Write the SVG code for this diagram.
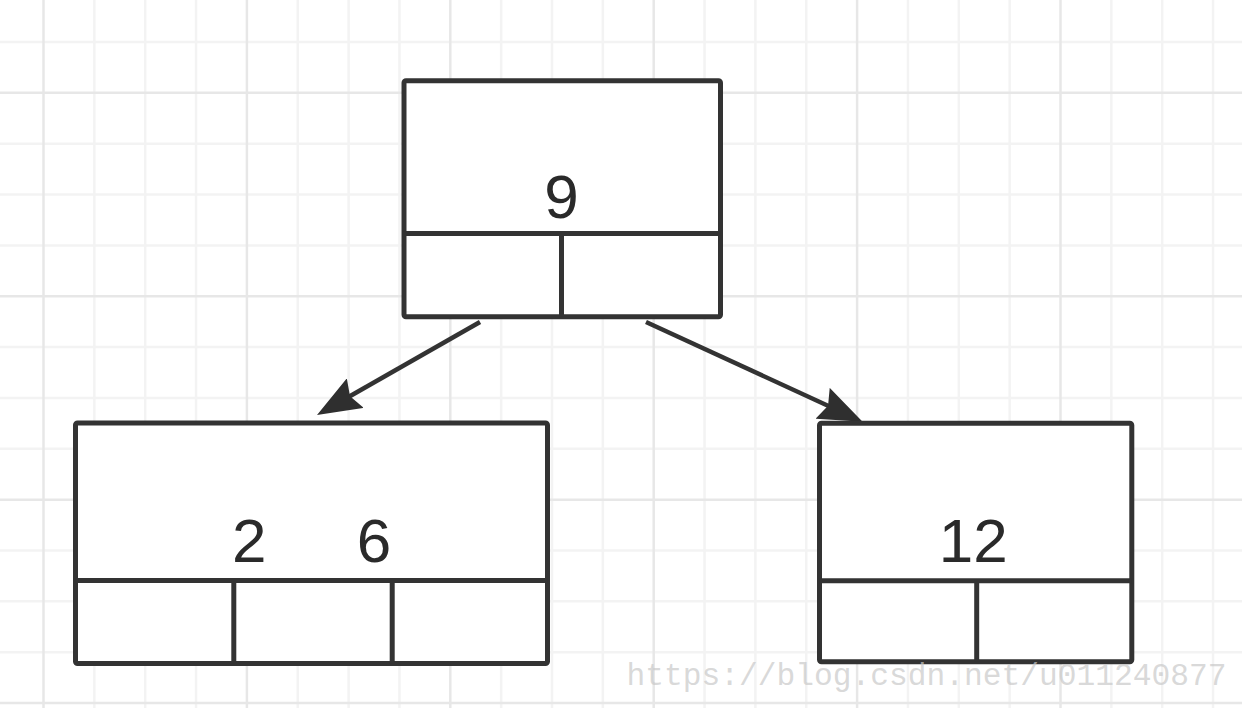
<svg xmlns="http://www.w3.org/2000/svg" width="1242" height="708" viewBox="0 0 1242 708">
  <style>
    .minor { stroke: #f3f3f3; stroke-width: 2.5; fill: none; }
    .major { stroke: #e7e7e7; stroke-width: 2.5; fill: none; }
    .box { fill: #ffffff; stroke: #333333; stroke-width: 5; stroke-linejoin: round; }
    .div { stroke: #333333; stroke-width: 5; fill: none; }
    .label { font-family: "Liberation Sans", Arial, sans-serif; font-size: 62px; fill: #2a2a2a; text-anchor: middle; }
    .edge { stroke: #333333; stroke-width: 4.5; fill: none; marker-end: url(#arrow); }
    .wm { font-family: "Liberation Mono", "DejaVu Sans Mono", monospace; font-size: 31px; fill: #c8c8c8; fill-opacity: 0.7; }
  </style>
  <defs>
    <marker id="arrow" viewBox="0 0 44 34" refX="34" refY="17" markerWidth="44" markerHeight="34" markerUnits="userSpaceOnUse" orient="auto">
      <path d="M0,0 L44,17 L0,34 L6,17 z" fill="#2f2f2f"/>
    </marker>
  </defs>
  <rect x="0" y="0" width="1242" height="708" fill="#ffffff"/>
  <g id="grid">
    <path class="minor" d="M94.35,0V708 M145.2,0V708 M196.05,0V708 M297.75,0V708 M348.6,0V708 M399.45,0V708 M501.15,0V708 M552,0V708 M602.85,0V708 M704.55,0V708 M755.4,0V708 M806.25,0V708 M907.95,0V708 M958.8,0V708 M1009.65,0V708 M1111.35,0V708 M1162.2,0V708 M1213.05,0V708 M0,42H1242 M0,143.7H1242 M0,194.55H1242 M0,245.4H1242 M0,347.1H1242 M0,397.95H1242 M0,448.8H1242 M0,550.5H1242 M0,601.35H1242 M0,652.2H1242"/>
    <path class="major" d="M43.5,0V708 M246.9,0V708 M450.3,0V708 M653.7,0V708 M857.1,0V708 M1060.5,0V708 M0,92.85H1242 M0,296.25H1242 M0,499.65H1242 M0,703.05H1242"/>
  </g>
  <g id="connectors">
    <line class="edge" x1="480" y1="322" x2="325.7" y2="410"/>
    <line class="edge" x1="646" y1="322" x2="853.5" y2="417.5"/>
  </g>
  <g id="node-9">
    <rect class="box" x="404" y="80.8" width="316.5" height="235.9" rx="2"/>
    <path class="div" d="M404,233.5H720.5 M561.5,233.5V316.7"/>
    <text class="label" x="561.5" y="218">9</text>
  </g>
  <g id="node-2-6">
    <rect class="box" x="75.5" y="423" width="472" height="240.5" rx="2"/>
    <path class="div" d="M75.5,580.5H547.5 M233.8,580.5V663.5 M392.2,580.5V663.5"/>
    <text class="label" y="562"><tspan x="249.3">2</tspan><tspan x="374">6</tspan></text>
  </g>
  <g id="node-12">
    <rect class="box" x="819.5" y="423.3" width="312.3" height="238.5" rx="2"/>
    <path class="div" d="M819.5,580.8H1131.8 M976.7,580.8V661.8"/>
    <text class="label" x="973.3" y="562">12</text>
  </g>
  <text class="wm" x="626.5" y="685" textLength="600" lengthAdjust="spacingAndGlyphs">https://blog.csdn.net/u011240877</text>
</svg>
